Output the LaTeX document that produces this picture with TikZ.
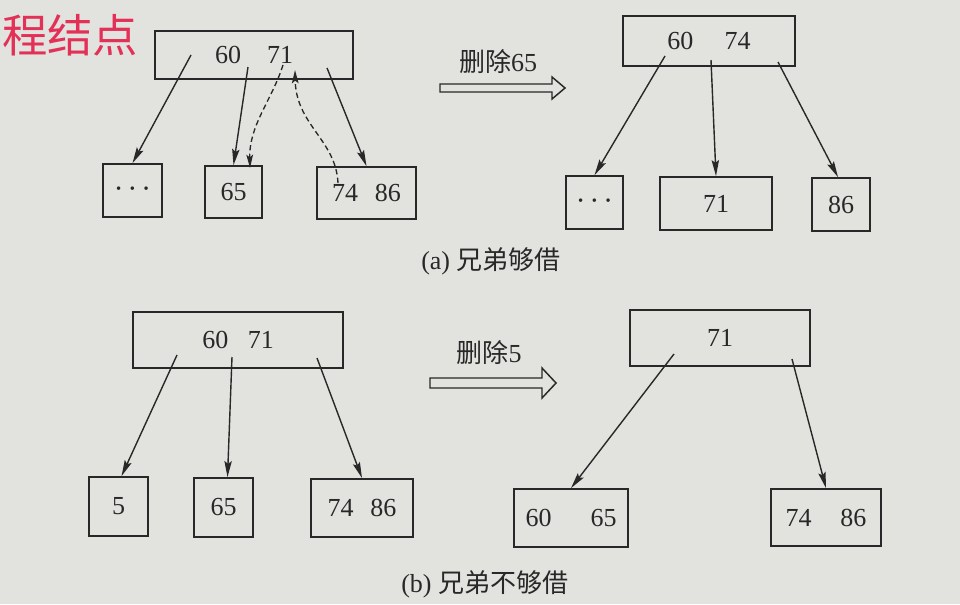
\documentclass[tikz,border=0pt]{standalone}
\usepackage{fontspec}
\setmainfont{Liberation Serif}
\newfontfamily\cjk{Noto Sans CJK SC}
\usetikzlibrary{arrows.meta,calc}
\definecolor{paper}{RGB}{226,226,223}
\definecolor{ink}{RGB}{40,40,40}
\definecolor{pen}{RGB}{226,48,86}
\newcommand\tdots{{\fontsize{11}{12}\selectfont •\hspace{6.5pt}•\hspace{6.5pt}•}}
\begin{document}
\begin{tikzpicture}[x=0.75pt,y=-0.75pt,
  every node/.style={inner sep=0pt,text=ink,font=\fontsize{19.5}{22}\selectfont},
  box/.style={draw=ink,line width=1.3pt},
  sz/.style 2 args={minimum width=#1*0.75pt,minimum height=#2*0.75pt},
  arr/.style={draw=ink,line width=1.05pt,-{Stealth[length=12pt,width=5.5pt,inset=2pt]}},
  darr/.style={draw=ink,line width=1pt,dash pattern=on 4pt off 2.5pt,-{Stealth[length=10pt,width=5pt,inset=2pt]}},
  bigarr/.style={draw=ink,line width=1.1pt,fill=paper}]
\fill[paper] (0,0) rectangle (960,604);
\useasboundingbox (0,0) rectangle (960,604);

% handwritten note
\node[text=pen,font=\cjk\fontsize{34}{38}\selectfont,anchor=west] (note) at (2,35) {程结点};

% ---------- (a) left ----------
\node[box,sz={198}{48}] (a1r) at (254,55) {60\hspace{1em}71};
\node[box,sz={59}{53}] (a1d) at (132.5,190.5) {\tdots};
\node[box,sz={57}{52}] (a1b) at (233.5,192) {65};
\node[box,sz={99}{52}] (a1c) at (366.5,193) {74\hspace{0.65em}86};
\coordinate (a1p1) at (191,55);
\coordinate (a1p2) at (248,67);
\coordinate (a1p3) at (327,68);
\draw[arr] (a1p1) -- (a1d.north);
\draw[arr] (a1p2) -- (a1b.north);
\draw[arr] (a1p3) -- (a1c.north);
\coordinate (a1q1) at (283,65);
\coordinate (a1q2) at (250,168);
\draw[darr] (a1q1) .. controls (272,100) and (249,125) .. (a1q2);
\coordinate (a1q3) at (338,183);
\coordinate (a1q4) at (295,70);
\draw[darr] (a1q3) .. controls (336,140) and (296,125) .. (a1q4);

% transform arrow (a)
\node (laba) at (498,62) {{\cjk 删除}65};
\draw[bigarr] (440,84) -- (552,84) -- (552,77) -- (565,88) -- (552,99) -- (552,92) -- (440,92) -- cycle;

% ---------- (a) right ----------
\node[box,sz={172}{50}] (a2r) at (709,41) {60\hspace{1.2em}74};
\node[box,sz={57}{53}] (a2d) at (594.5,202.5) {\tdots};
\node[box,sz={112}{53}] (a2b) at (716,203.5) {71};
\node[box,sz={58}{53}] (a2c) at (841,204.5) {86};
\coordinate (a2p1) at (665,56);
\coordinate (a2p2) at (711,60);
\coordinate (a2p3) at (778,62);
\draw[arr] (a2p1) -- (a2d.north);
\draw[arr] (a2p2) -- (a2b.north);
\draw[arr] (a2p3) -- ($(a2c.north)+(-3,0)$);

\node[anchor=west] (capa) at (421,261) {(a) {\cjk 兄弟够借}};

% ---------- (b) left ----------
\node[box,sz={210}{56}] (b1r) at (238,340) {60\hspace{0.75em}71};
\node[box,sz={59}{59}] (b1a) at (118.5,506.5) {5};
\node[box,sz={59}{59}] (b1b) at (223.5,507.5) {65};
\node[box,sz={102}{58}] (b1c) at (362,508) {74\hspace{0.65em}86};
\coordinate (b1p1) at (177,355);
\coordinate (b1p2) at (232,357);
\coordinate (b1p3) at (317,358);
\draw[arr] (b1p1) -- ($(b1a.north)+(3,0)$);
\draw[arr] (b1p2) -- ($(b1b.north)+(4,0)$);
\draw[arr] (b1p3) -- (b1c.north);

% transform arrow (b)
\node (labb) at (489,353) {{\cjk 删除}5};
\draw[bigarr] (430,378) -- (542,378) -- (542,368) -- (556,383) -- (542,398) -- (542,388) -- (430,388) -- cycle;

% ---------- (b) right ----------
\node[box,sz={180}{56}] (b2r) at (720,338) {71};
\node[box,sz={114}{58}] (b2a) at (571,518) {60\hspace{1.5em}65};
\node[box,sz={110}{57}] (b2b) at (826,517.5) {74\hspace{1.1em}86};
\coordinate (b2p1) at (674,354);
\coordinate (b2p2) at (792,359);
\draw[arr] (b2p1) -- (b2a.north);
\draw[arr] (b2p2) -- (b2b.north);

\node[anchor=west] (capb) at (401,584) {(b) {\cjk 兄弟不够借}};
\end{tikzpicture}
\end{document}
